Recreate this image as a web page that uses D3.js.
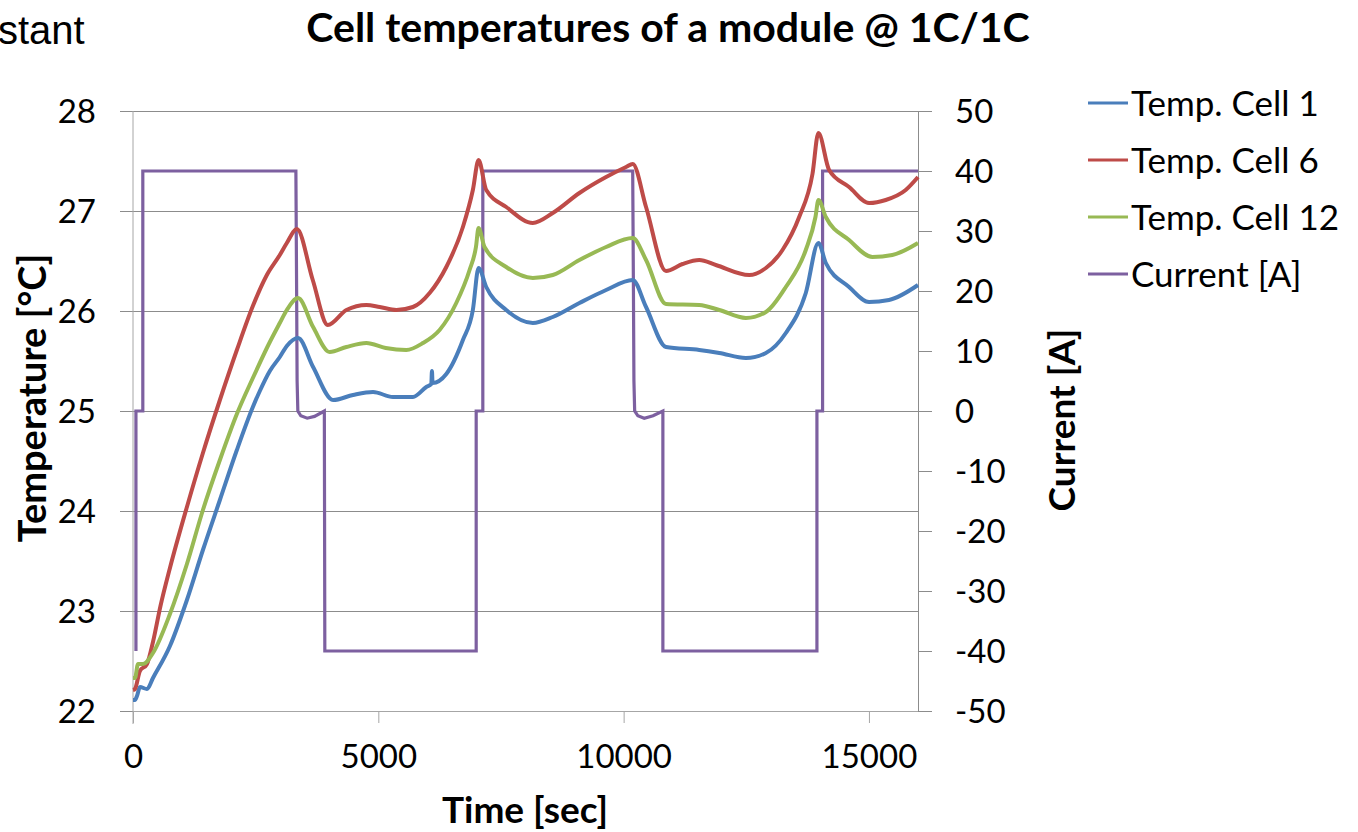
<!DOCTYPE html>
<html>
<head>
<meta charset="utf-8">
<script src="https://cdn.jsdelivr.net/npm/d3@7"></script>
<style>
  body { margin: 0; background: #fff; }
  text { font-family: Lato, "Open Sans", sans-serif; fill: #000; }
</style>
</head>
<body>
<div id="chart"></div>
<script>
// Ticks
const timeTicks = [0, 5000, 10000, 15000];
const tempTicks = [22, 23, 24, 25, 26, 27, 28];
const currentTicks = [-50, -40, -30, -20, -10, 0, 10, 20, 30, 40, 50];

// [time sec, temp °C]
const cell1 = [[0, 22.11], [40, 22.11], [81, 22.15], [142, 22.24], [285, 22.22], [407, 22.33], [753, 22.65],
    [1099, 23.11], [1425, 23.61], [1771, 24.11], [2117, 24.61], [2443, 25.04], [2585, 25.20], [2789, 25.40],
    [2992, 25.54], [3135, 25.65], [3365, 25.73], [3671, 25.44], [4078, 25.11], [4485, 25.16], [4892, 25.19],
    [5299, 25.14], [5706, 25.14], [5978, 25.24], [6080, 25.27], [6093, 25.40], [6106, 25.28], [6386, 25.37],
    [6724, 25.71], [6927, 26.01], [7043, 26.43], [7200, 26.24], [7607, 26.01], [8149, 25.88], [8556, 25.94],
    [9099, 26.08], [9643, 26.21], [10185, 26.31], [10457, 26.04], [10864, 25.64], [11542, 25.61], [11950, 25.58],
    [12492, 25.53], [12900, 25.58], [13306, 25.78], [13713, 26.18], [13970, 26.68], [14121, 26.48], [14595, 26.24],
    [15002, 26.09], [15409, 26.11], [16000, 26.26]];

const cell6 = [[0, 22.21], [40, 22.22], [140, 22.40], [285, 22.47], [407, 22.69], [560, 23.05], [753, 23.43],
    [1099, 24.04], [1425, 24.58], [1771, 25.11], [2117, 25.61], [2443, 26.05], [2728, 26.36], [2992, 26.56],
    [3135, 26.68], [3340, 26.82], [3664, 26.31], [3970, 25.86], [4350, 26.01], [4757, 26.06], [5028, 26.04],
    [5368, 26.01], [5706, 26.04], [6046, 26.18], [6386, 26.44], [6724, 26.84], [6927, 27.21], [7043, 27.51],
    [7200, 27.21], [7607, 27.04], [8149, 26.88], [8556, 26.98], [9099, 27.18], [9643, 27.34], [10050, 27.44],
    [10185, 27.47], [10457, 27.04], [10864, 26.40], [11200, 26.47], [11542, 26.51], [11880, 26.46], [12560, 26.36],
    [12900, 26.43], [13238, 26.61], [13578, 26.94], [13849, 27.37], [13970, 27.78], [14188, 27.41], [14595, 27.24],
    [15002, 27.08], [15342, 27.11], [15749, 27.21], [16000, 27.34]];

const cell12 = [[0, 22.33], [40, 22.33], [102, 22.47], [204, 22.47], [407, 22.58], [753, 22.97], [1099, 23.47],
    [1425, 24.01], [1771, 24.51], [2117, 24.97], [2443, 25.33], [2789, 25.69], [2992, 25.88], [3135, 26.01],
    [3365, 26.13], [3671, 25.84], [4010, 25.59], [4350, 25.64], [4757, 25.68], [5150, 25.63], [5571, 25.61],
    [5910, 25.68], [6249, 25.81], [6589, 26.08], [6860, 26.41], [6990, 26.64], [7043, 26.83], [7165, 26.64],
    [7607, 26.44], [8149, 26.33], [8556, 26.36], [9099, 26.51], [9643, 26.64], [10185, 26.73], [10457, 26.51],
    [10864, 26.07], [11542, 26.06], [11950, 26.01], [12492, 25.93], [12900, 25.99], [13306, 26.24], [13713, 26.61],
    [13910, 26.94], [13970, 27.11], [14121, 26.94], [14595, 26.71], [15070, 26.54], [15477, 26.56], [16000, 26.68]];

// [time sec, current A]
const current = [[60, -40], [60, 0], [200, 0], [200, 40], [3320, 40], [3335, 20], [3345, 5], [3360, 0],
    [3420, -0.8], [3550, -1.2], [3700, -0.9], [3900, 0], [3910, -40], [6995, -40], [6995, 0], [7130, 0],
    [7130, 40], [10185, 40], [10200, 20], [10210, 5], [10225, 0], [10290, -0.8], [10420, -1.2], [10600, -0.8],
    [10800, 0], [10800, -40], [13940, -40], [13940, 0], [14055, 0], [14055, 40], [16000, 40]];

const seriesNames = ["Temp. Cell 1", "Temp. Cell 6", "Temp. Cell 12", "Current [A]"];
const seriesColors = ["#4a7ebb", "#be4b48", "#98b954", "#7d60a0"];

const width = 1358, height = 832;
const plot = { left: 133, right: 918, top: 111, bottom: 711 };

const svg = d3.select('#chart')
    .append('svg')
    .attr('width', width)
    .attr('height', height);

svg.append('rect').attr('width', width).attr('height', height).attr('fill', '#fff');

const x = d3.scaleLinear().domain([0, 16000]).range([plot.left, plot.right]);
const yT = d3.scaleLinear().domain([22, 28]).range([plot.bottom, plot.top]);
const yI = d3.scaleLinear().domain([-50, 50]).range([plot.bottom, plot.top]);

// left axis with gridlines
const leftAxis = svg.append('g')
    .attr('transform', 'translate(' + plot.left + ',0)')
    .call(d3.axisLeft(yT).tickValues(tempTicks).tickSize(13).tickPadding(24).tickFormat(d => String(d)));
leftAxis.selectAll('.tick line').clone()
    .attr('x2', plot.right - plot.left);
leftAxis.selectAll('line').attr('stroke', '#8c8c8c');
leftAxis.select('.domain').remove();
leftAxis.selectAll('text').style('font-size', '33px').attr('dy', '0.36em');

svg.append('line')
    .attr('x1', plot.left).attr('x2', plot.left)
    .attr('y1', plot.top).attr('y2', plot.bottom + 13)
    .attr('stroke', '#a6a6a6');

// right axis
const rightAxis = svg.append('g')
    .attr('transform', 'translate(' + plot.right + ',0)')
    .call(d3.axisRight(yI).tickValues(currentTicks).tickSize(14).tickPadding(23).tickFormat(d => String(d)));
rightAxis.selectAll('line').attr('stroke', '#8c8c8c');
rightAxis.select('.domain').attr('stroke', '#8c8c8c').attr('d', 'M0.5,' + plot.top + 'V' + plot.bottom);
rightAxis.selectAll('text').style('font-size', '33px').attr('dy', '0.36em');

// bottom axis
const bottomAxis = svg.append('g')
    .attr('transform', 'translate(0,' + plot.bottom + ')')
    .call(d3.axisBottom(x).tickValues(timeTicks).tickSize(12).tickPadding(22).tickFormat(d => String(d)));
bottomAxis.selectAll('line').attr('stroke', '#a6a6a6');
bottomAxis.select('.domain').attr('stroke', '#a6a6a6').attr('d', 'M' + plot.left + ',0.5H' + plot.right);
bottomAxis.selectAll('text').style('font-size', '33px');

// lines
const tempLine = d3.line()
    .x(d => x(d[0]))
    .y(d => yT(d[1]))
    .curve(d3.curveMonotoneX);

const currentLine = d3.line()
    .x(d => x(d[0]))
    .y(d => yI(d[1]));

svg.append('path')
    .datum(current)
    .attr('d', currentLine)
    .attr('fill', 'none')
    .attr('stroke', seriesColors[3])
    .attr('stroke-width', 3.2);

[cell1, cell6, cell12].forEach(function (s, i) {
    svg.append('path')
        .datum(s)
        .attr('d', tempLine)
        .attr('fill', 'none')
        .attr('stroke', seriesColors[i])
        .attr('stroke-width', 4)
        .attr('stroke-linejoin', 'round');
});

// titles
svg.append('text')
    .attr('x', 668).attr('y', 42)
    .attr('text-anchor', 'middle')
    .style('font-size', '41px').style('font-weight', 'bold')
    .text('Cell temperatures of a module @ 1C/1C');

svg.append('text')
    .attr('x', 525).attr('y', 823)
    .attr('text-anchor', 'middle')
    .style('font-size', '37px').style('font-weight', 'bold')
    .text('Time [sec]');

svg.append('text')
    .attr('transform', 'translate(46,398) rotate(-90)')
    .attr('text-anchor', 'middle')
    .style('font-size', '38px').style('font-weight', 'bold')
    .text('Temperature [°C]');

svg.append('text')
    .attr('transform', 'translate(1075,420) rotate(-90)')
    .attr('text-anchor', 'middle')
    .style('font-size', '37px').style('font-weight', 'bold')
    .text('Current [A]');

// slide leftovers
svg.append('text')
    .attr('x', -2).attr('y', 44)
    .style('font-family', '"Liberation Sans", Arial, sans-serif')
    .style('font-size', '40px')
    .text('stant');

svg.append('text')
    .attr('x', 1322).attr('y', 860)
    .style('font-family', '"Liberation Sans", Arial, sans-serif')
    .style('font-size', '40px')
    .text('14');

// legend
const legend = svg.append('g')
    .selectAll('g')
    .data(seriesNames)
    .join('g')
    .attr('transform', (d, i) => 'translate(1088,' + (103 + i * 57) + ')');

legend.append('line')
    .attr('x1', 0).attr('x2', 40)
    .attr('stroke', (d, i) => seriesColors[i])
    .attr('stroke-width', 3);

legend.append('text')
    .attr('x', 43)
    .attr('dy', '0.36em')
    .style('font-size', '35px')
    .text(d => d);
</script>
</body>
</html>
